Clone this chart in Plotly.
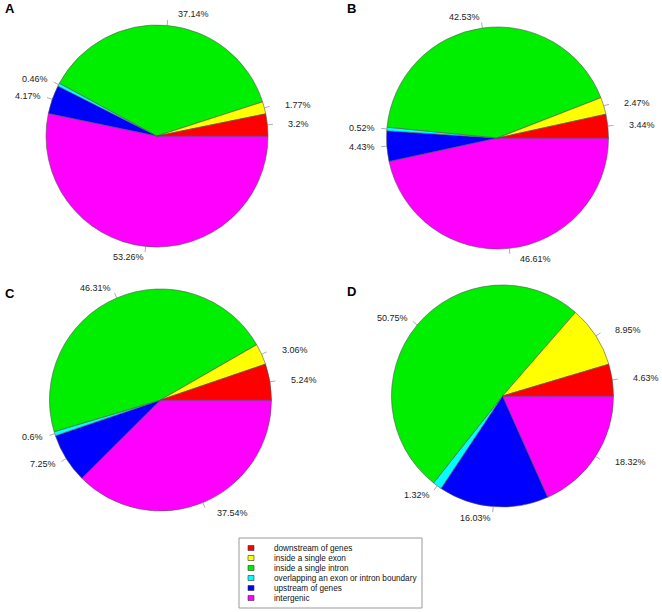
import math
import plotly.graph_objects as go

categories = ["downstream of genes", "inside a single exon", "inside a single intron",
              "overlapping an exon or intron boundary", "upstream of genes", "intergenic"]
colors = ["#FF0000", "#FFFF00", "#00EE00", "#00FFFF", "#0000FF", "#FF00FF"]

panel_names = ["A", "B", "C", "D"]
values_A = [3.2, 1.77, 37.14, 0.46, 4.17, 53.26]
values_B = [3.44, 2.47, 42.53, 0.52, 4.43, 46.61]
values_C = [5.24, 3.06, 46.31, 0.6, 7.25, 37.54]
values_D = [4.63, 8.95, 50.75, 1.32, 16.03, 18.32]
panel_values = [values_A, values_B, values_C, values_D]

W, H = 662, 612
# layout: pie centers (px) and radius, panel letter positions
centers = [(157, 136), (497.5, 138), (160.5, 400), (502.5, 396)]
radius = 111
letter_pos = [(3, 9), (345, 9), (3, 293), (345, 291)]

fig = go.Figure()
shapes = []
annotations = []

def px(x):
    return x / W

def py(y):
    return 1 - y / H

for name, vals, (cx, cy), (lx, ly) in zip(panel_names, panel_values, centers, letter_pos):
    # slices go counterclockwise from 3 o'clock; plotly draws them in reverse order clockwise
    fig.add_trace(go.Pie(
        labels=categories[::-1], values=vals[::-1], sort=False, direction="clockwise",
        rotation=90, textinfo="none", hoverinfo="label+percent",
        marker=dict(colors=colors[::-1], line=dict(color="#555555", width=0.6)),
        domain=dict(x=[px(cx - radius), px(cx + radius)], y=[py(cy + radius), py(cy - radius)]),
        showlegend=False, name=name,
    ))
    total = sum(vals)
    cum = 0
    for v in vals:
        mid = (cum + v / 2) / total * 2 * math.pi
        cum += v
        c, s = math.cos(mid), math.sin(mid)
        shapes.append(dict(type="line", xref="paper", yref="paper",
                           x0=px(cx + radius * c), y0=py(cy - radius * s),
                           x1=px(cx + 1.05 * radius * c), y1=py(cy - 1.05 * radius * s),
                           line=dict(color="#888888", width=0.7)))
        right = c >= 0
        annotations.append(dict(
            x=px(cx + 1.1 * radius * c), y=py(cy - 1.1 * radius * s), xref="paper", yref="paper",
            text=f"{v:g}%", showarrow=False, xanchor="left" if right else "right", yanchor="middle",
            xshift=8 if right else 1, font=dict(family="Liberation Sans, Arial", size=9, color="#222222")))
    annotations.append(dict(x=px(lx), y=py(ly), xref="paper", yref="paper", text=f"<b>{name}</b>",
                            showarrow=False, xanchor="left", yanchor="middle",
                            font=dict(family="Liberation Sans, Arial", size=13, color="#000000")))

# manual legend
lg_x0, lg_y0, lg_x1, lg_y1 = 239, 538, 422, 608
shapes.append(dict(type="rect", xref="paper", yref="paper", x0=px(lg_x0), y0=py(lg_y1),
                   x1=px(lg_x1), y1=py(lg_y0), line=dict(color="#999999", width=1)))
for i, (cat, col) in enumerate(zip(categories, colors)):
    ry = 548 + 10 * i
    shapes.append(dict(type="rect", xref="paper", yref="paper", x0=px(248), x1=px(254),
                       y0=py(ry + 2.5), y1=py(ry - 2.5), fillcolor=col,
                       line=dict(color="#333333", width=0.6)))
    annotations.append(dict(x=px(272), y=py(ry), xref="paper", yref="paper", text=cat,
                            showarrow=False, xanchor="left", yanchor="middle",
                            font=dict(family="Liberation Sans, Arial", size=8.2, color="#111111")))

fig.update_layout(width=W, height=H, margin=dict(l=0, r=0, t=0, b=0),
                  paper_bgcolor="white", plot_bgcolor="white",
                  shapes=shapes, annotations=annotations, showlegend=False)

fig.write_html("out.html", config={"displayModeBar": False},
               post_script="document.body.style.margin='0px';")
